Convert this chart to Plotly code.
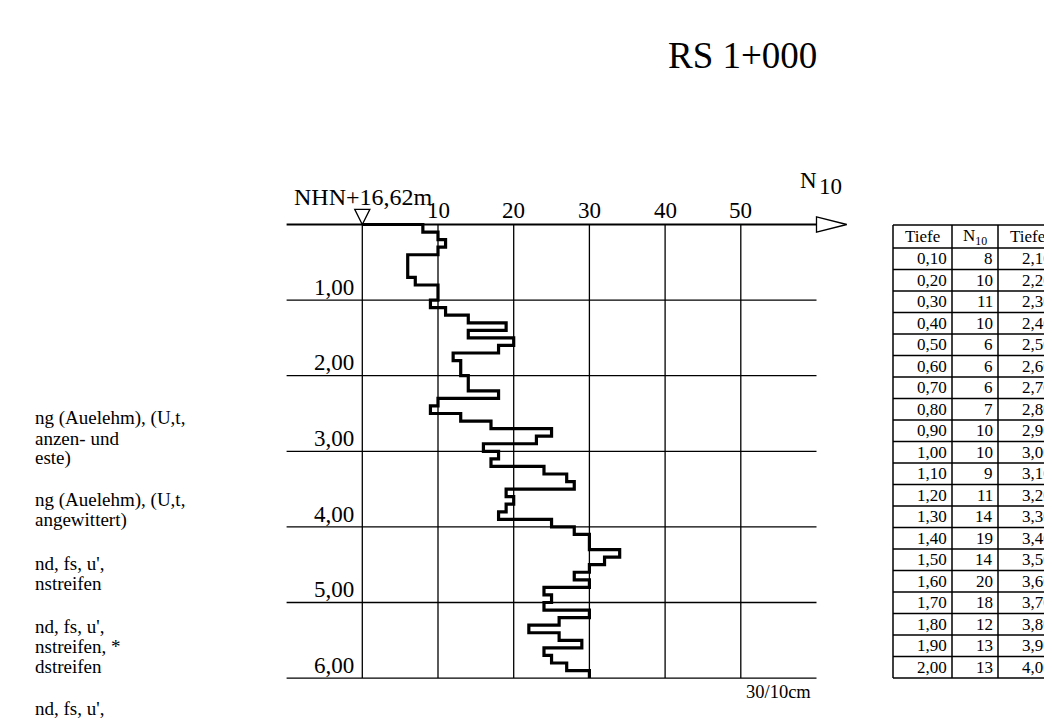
import plotly.graph_objects as go

# ---------------- data ----------------
title_text = "RS 1+000"
elevation_label = "NHN+16,62m"
unit_label = "30/10cm"

depth = [0.10, 0.20, 0.30, 0.40, 0.50, 0.60, 0.70, 0.80, 0.90, 1.00,
         1.10, 1.20, 1.30, 1.40, 1.50, 1.60, 1.70, 1.80, 1.90, 2.00,
         2.10, 2.20, 2.30, 2.40, 2.50, 2.60, 2.70, 2.80, 2.90, 3.00,
         3.10, 3.20, 3.30, 3.40, 3.50, 3.60, 3.70, 3.80, 3.90, 4.00,
         4.10, 4.20, 4.30, 4.40, 4.50, 4.60, 4.70, 4.80, 4.90, 5.00,
         5.10, 5.20, 5.30, 5.40, 5.50, 5.60, 5.70, 5.80, 5.90, 6.00]
n10 = [8, 10, 11, 10, 6, 6, 6, 7, 10, 10,
       9, 11, 14, 19, 14, 20, 18, 12, 13, 13,
       14, 14, 18, 10, 9, 13, 17, 25, 23, 16,
       18, 17, 24, 27, 28, 19, 20, 19, 18, 25,
       28, 30, 30, 34, 32, 30, 28, 30, 24, 25,
       24, 30, 26, 22, 26, 29, 24, 25, 27, 30]

x_ticks = [10, 20, 30, 40, 50]
x_grid = [0, 10, 20, 30, 40, 50]
depth_ticks = [1, 2, 3, 4, 5, 6]
depth_tick_labels = ["1,00", "2,00", "3,00", "4,00", "5,00", "6,00"]

legend_lines = [
    ("ng (Auelehm), (U,t,", 418), ("anzen- und", 438), ("este)", 458),
    ("ng (Auelehm), (U,t,", 500), ("angewittert)", 520),
    ("nd, fs, u',", 563), ("nstreifen", 583),
    ("nd, fs, u',", 626), ("nstreifen, *", 646), ("dstreifen", 666),
    ("nd, fs, u',", 708),
]

# ---------------- geometry ----------------
OFF = 8                         # default body margin of the html page
W, H = 1052 - OFF, 719 - OFF    # figure ends exactly at the window edge
X0_PX, X_PER = 362.3 - OFF, 7.57      # pixel of N=0 (figure coords), pixels per blow
Y0_PX, Y_PER = 224.5 - OFF, 75.6      # pixel of depth 0 (figure coords), pixels per metre
x_range = [-X0_PX / X_PER, (W - X0_PX) / X_PER]
y_range = [(H - Y0_PX) / Y_PER, -Y0_PX / Y_PER]

SERIF = "Liberation Serif, Times New Roman, serif"
BLACK = "#000000"

def px(xp):
    """window pixel -> paper x"""
    return (xp - OFF) / W

def py(yp):
    """window pixel -> paper y"""
    return 1 - (yp - OFF) / H

fig = go.Figure()

# step curve
xs = [0] + n10
ys = [0] + depth
fig.add_trace(go.Scatter(x=xs, y=ys, mode="lines", line=dict(color=BLACK, width=3.2, shape="hv"),
                         hoverinfo="skip"))

shapes = []
for g in x_grid:
    shapes.append(dict(type="line", xref="x", yref="y", x0=g, x1=g, y0=0, y1=depth_ticks[-1],
                       line=dict(color=BLACK, width=1.3)))
for d in depth_ticks:
    shapes.append(dict(type="line", xref="x", yref="y", x0=-10, x1=60, y0=d, y1=d,
                       line=dict(color=BLACK, width=1.3)))
shapes.append(dict(type="line", xref="x", yref="y", x0=-10, x1=60, y0=0, y1=0,
                   line=dict(color=BLACK, width=2)))
shapes.append(dict(type="path", xref="x", yref="y", path="M 60,-0.1 L 64,0 L 60,0.1 Z",
                   line=dict(color=BLACK, width=1.3), fillcolor="white"))
shapes.append(dict(type="path", xref="x", yref="y", path="M -1,-0.2 L 1,-0.2 L 0,0 Z",
                   line=dict(color=BLACK, width=1.3), fillcolor="white"))

annotations = []
annotations.append(dict(text=title_text, x=px(742), y=py(55), xref="paper", yref="paper",
                        xanchor="center", yanchor="middle", showarrow=False,
                        font=dict(family=SERIF, size=37, color=BLACK)))
annotations.append(dict(text=elevation_label, x=-9.3, y=-0.37, xref="x", yref="y",
                        xanchor="left", yanchor="middle", showarrow=False,
                        font=dict(family=SERIF, size=24, color=BLACK)))
for t in x_ticks:
    annotations.append(dict(text=str(t), x=t, y=-0.19, xref="x", yref="y", showarrow=False,
                            xanchor="center", yanchor="middle",
                            font=dict(family=SERIF, size=23, color=BLACK)))
for d, lab in zip(depth_ticks, depth_tick_labels):
    annotations.append(dict(text=lab, x=-0.8, y=d - 0.17, xref="x", yref="y", showarrow=False,
                            xanchor="right", yanchor="middle",
                            font=dict(family=SERIF, size=23, color=BLACK)))
annotations.append(dict(text="N", x=58.9, y=-0.58, xref="x", yref="y", showarrow=False,
                        xanchor="center", yanchor="middle",
                        font=dict(family=SERIF, size=23, color=BLACK)))
annotations.append(dict(text="10", x=60.0, y=-0.5, xref="x", yref="y", showarrow=False,
                        xanchor="left", yanchor="middle",
                        font=dict(family=SERIF, size=23, color=BLACK)))
annotations.append(dict(text=unit_label, x=50.4, y=6.19, xref="x", yref="y", showarrow=False,
                        xanchor="left", yanchor="middle",
                        font=dict(family=SERIF, size=18.5, color=BLACK)))

for txt, yp in legend_lines:
    annotations.append(dict(text=txt, x=px(33), y=py(yp), xref="paper", yref="paper",
                            xanchor="left", yanchor="middle", showarrow=False,
                            font=dict(family=SERIF, size=19, color=BLACK)))

# ---------------- table ----------------
col_edges = [893, 952, 998, 1057, 1103]
TOP, HDR_H, ROW_H = 225, 23, 21.5
n_rows = 20
bottom = TOP + HDR_H + n_rows * ROW_H
tl = dict(color=BLACK, width=1.5)
for xe in col_edges:
    shapes.append(dict(type="line", xref="paper", yref="paper", x0=px(xe), x1=px(xe),
                       y0=py(TOP), y1=py(bottom), line=tl))
row_lines = [TOP, TOP + HDR_H] + [TOP + HDR_H + (i + 1) * ROW_H for i in range(n_rows)]
for yl in row_lines:
    shapes.append(dict(type="line", xref="paper", yref="paper", x0=px(col_edges[0]),
                       x1=px(col_edges[-1]), y0=py(yl), y1=py(yl), line=tl))

headers = ["Tiefe", "N<sub>10</sub>", "Tiefe", "N<sub>10</sub>"]
for ci, h in enumerate(headers):
    annotations.append(dict(text=h, x=px((col_edges[ci] + col_edges[ci + 1]) / 2),
                            y=py(TOP + HDR_H / 2), xref="paper", yref="paper",
                            showarrow=False, xanchor="center", yanchor="middle",
                            font=dict(family=SERIF, size=17, color=BLACK)))

def fmt_depth(v):
    return f"{v:.2f}".replace(".", ",")

columns = [
    [fmt_depth(v) for v in depth[0:20]],
    [str(v) for v in n10[0:20]],
    [fmt_depth(v) for v in depth[20:40]],
    [str(v) for v in n10[20:40]],
]
for ci, col in enumerate(columns):
    for ri, val in enumerate(col):
        yc = TOP + HDR_H + (ri + 0.5) * ROW_H
        annotations.append(dict(text=val, x=px(col_edges[ci + 1] - 3), y=py(yc),
                                xref="paper", yref="paper", showarrow=False,
                                xanchor="right", yanchor="middle",
                                font=dict(family=SERIF, size=17, color=BLACK)))

fig.update_layout(
    width=W, height=H,
    margin=dict(l=0, r=0, t=0, b=0),
    paper_bgcolor="white", plot_bgcolor="white",
    showlegend=False,
    xaxis=dict(range=x_range, visible=False, fixedrange=True),
    yaxis=dict(range=y_range, visible=False, fixedrange=True),
    shapes=shapes, annotations=annotations,
)

fig.write_html("out.html")
